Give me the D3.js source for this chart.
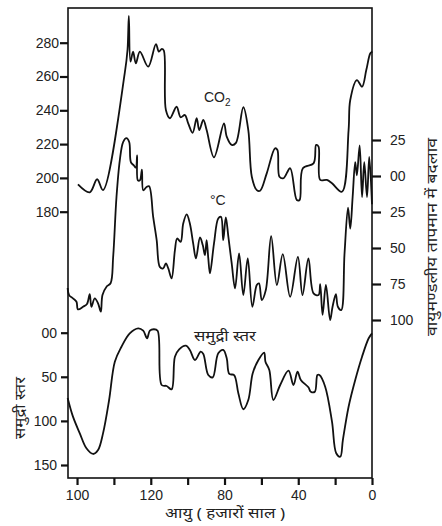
<!DOCTYPE html>
<html>
<head>
<meta charset="utf-8">
<script src="https://cdn.jsdelivr.net/npm/d3@7"></script>
<style>
  body { margin: 0; background: #fff; }
  text { font-family: "Liberation Sans", Arial, sans-serif; fill: #222; }
  .hindi { font-family: "Noto Sans", "DejaVu Sans", sans-serif; }
</style>
</head>
<body>
<script>
(function(){

//data: [age in thousand years, value]
var co2Data = [[159.5,196.2],[153.1,191.5],[149.1,199.2],[145.9,192.8],[134.1,262.1],[132.6,276],[131.9,295.8],[131.0,268.8],
    [129.6,274.7],[128.1,267.8],[125.9,274.7],[121.4,265.8],[117.2,279.2],[115.6,274.7],[114,276.3],[112.9,275.3],
    [111.8,240.2],[109.6,235.3],[106,242.1],[103.8,235.9],[101.5,237.2],[99.7,232.3],[97.3,226.7],[95.1,235.3],
    [93.7,228.3],[91.5,234.3],[89.7,228.3],[85.7,212.2],[80.3,232.3],[78.8,224.4],[76.1,219.5],[73.8,220.7],
    [69.8,241.8],[67.1,228.3],[65.2,200.7],[62.5,192.8],[60.7,192.4],[57.1,202.7],[52.6,217.5],[51.3,216.5],
    [50.2,200.7],[48.0,199.8],[44.4,205.7],[40.8,186.9],[39.3,186.9],[37.5,205.7],[31.7,208.6],[30.3,219.5],
    [29.0,218.5],[28.1,198.8],[24.5,198.8],[21.7,196.8],[16.3,191.8],[12.7,228.3],[11.8,246.1],[8.2,257.9],
    [5.4,254.0],[3.1,263.8],[0.9,273.7],[-0.2,274.7]];

var tempData = [[165.1,-7.78],[164.3,-8.27],[162.2,-8.50],[160.3,-8.73],[159.5,-9.26],[156.7,-9.08],[154.6,-8.89],
    [153.1,-8.20],[152.2,-9.08],[150.4,-8.50],[148.6,-8.84],[147.1,-9.42],[146.2,-8.27],[144.0,-7.69],[141.8,-7.45],
    [140.4,-5.61],[138.6,-1.46],[136.8,1.09],[135.0,2.36],[133.2,2.63],[131.7,2.36],[130.8,0.97],[129.2,0.74],
    [128.1,0.58],[127.4,1.43],[127.0,-0.30],[125.9,-0.30],[124.8,0.44],[124.1,-0.99],[122.3,-0.76],[120.9,-0.71],
    [118.7,-2.84],[116.8,-4.45],[115.1,-6.31],[113.3,-6.42],[111.8,-6.07],[110.5,-6.42],[108.7,-7.11],[106.9,-5.15],
    [105.7,-4.34],[103.8,-4.57],[102.4,-3.30],[100.5,-2.67],[98.8,-3.30],[97.0,-4.68],[95.5,-5.72],[93.3,-4.27],
    [91.8,-4.80],[90.6,-5.50],[89.7,-4.46],[88.8,-5.72],[87.9,-6.76],[85.7,-4.68],[83.4,-2.95],[81.9,-2.84],
    [80.7,-4.46],[79.3,-2.88],[77.9,-4.23],[76.1,-6.07],[74.3,-7.80],[72.1,-5.38],[69.8,-8.27],[67.4,-5.72],
    [64.9,-9.08],[62.5,-7.57],[61.3,-7.46],[59.8,-8.61],[57.6,-7.92],[54.7,-4.18],[51.6,-7.57],[48.4,-5.43],
    [44.4,-8.39],[40.2,-5.61],[37.7,-8.27],[34.5,-5.72],[31.7,-8.15],[29.0,-8.27],[28.1,-7.51],[26.8,-9.65],
    [25.0,-7.57],[22.7,-10.0],[21.4,-9.08],[19.6,-8.20],[18.5,-9.08],[16.7,-9.31],[14.9,-5.38],[13.0,-2.19],
    [11.8,-3.65],[10.5,-1.46],[9.1,0.97],[8.2,0.05],[6.7,2.13],[5.4,-1.46],[4.2,0.97],[2.7,-1.46],[1.5,1.32],[0.0,-1.96]];

var seaData = [[165.1,74.0],[162.2,95.2],[158.5,114.1],[154.9,131.1],[151.3,137.5],[148.6,133.0],[145.9,114.1],
    [142.6,76.3],[139.5,32.9],[135.9,15.9],[131.4,0.7],[126.8,-5.0],[124.1,-2.3],[122.0,6.3],[120.5,-2.3],
    [118.3,-3.9],[116.3,-2.3],[114.1,59.3],[111.4,60.4],[108.7,64.2],[106.9,27.2],[104.6,18.8],[100.9,14.7],
    [98.8,19.6],[96.0,31.0],[92.9,21.5],[91.5,24.1],[88.8,48.0],[86.4,50.6],[83.4,23.4],[80.7,19.6],[78.8,29.0],
    [77.4,46.8],[74.8,48.0],[72.5,68.7],[69.8,86.8],[67.1,76.3],[64.7,46.0],[61.6,31.0],[58.5,22.7],[57.8,32.9],
    [55.7,42.3],[53.5,76.3],[49.8,59.3],[45.3,43.1],[42.6,59.3],[40.4,44.2],[38.6,53.6],[34.5,61.9],[33.2,66.9],
    [31.0,66.9],[29.6,48.0],[28.5,48.0],[25.4,61.2],[21.7,100.9],[19.4,136.7],[17.2,140.6],[15.8,121.7],
    [12.7,83.9],[9.1,53.6],[5.4,27.2],[1.8,6.3],[0,0.7]];

//tick values and labels as printed
var ageTicks = [160,140,120,100,80,60,40,20,0];
var ageLabels = ["100","","120","","80","","40","","0"];
var co2Ticks = [180,200,220,240,260,280];
var tempTicks = [2.5,0,-2.5,-5,-7.5,-10];
var tempLabels = ["25","00","25","50","75","100"];
var seaTicks = [0,50,100,150];
var seaLabels = ["00","50","100","150"];

var width = 442, height = 526;
var left = 68, right = 372, top = 8, bottom = 478;

var svg = d3.select("body").append("svg")
    .attr("width", width)
    .attr("height", height);

var x = d3.scaleLinear().domain([164.9, 0]).range([left, right]);
var yCo2 = d3.scaleLinear().domain([180, 280]).range([211.7, 42.7]);
var yTemp = d3.scaleLinear().domain([2.5, -10]).range([140, 320]);
var ySea = d3.scaleLinear().domain([0, 150]).range([332.7, 465]);

//frame
svg.append("rect")
    .attr("x", left).attr("y", top)
    .attr("width", right - left).attr("height", bottom - top)
    .attr("fill", "none").attr("stroke", "#111").attr("stroke-width", 1.6);

function styleAxis(g){
    g.select(".domain").remove();
    g.selectAll(".tick line").attr("stroke", "#111").attr("stroke-width", 2.2);
    g.selectAll(".tick text").attr("font-size", 14).attr("fill", "#222")
        .attr("font-family", "Liberation Sans, Arial, sans-serif");
}

svg.append("g")
    .attr("transform", "translate(0," + bottom + ")")
    .call(d3.axisBottom(x).tickValues(ageTicks).tickSize(7).tickPadding(5)
        .tickFormat(function(d, i){ return ageLabels[i]; }))
    .call(styleAxis);

svg.append("g")
    .attr("transform", "translate(" + left + ",0)")
    .call(d3.axisLeft(yCo2).tickValues(co2Ticks).tickSize(8).tickPadding(1))
    .call(styleAxis);

svg.append("g")
    .attr("transform", "translate(" + left + ",0)")
    .call(d3.axisLeft(ySea).tickValues(seaTicks).tickSize(7).tickPadding(4)
        .tickFormat(function(d, i){ return seaLabels[i]; }))
    .call(styleAxis);

svg.append("g")
    .attr("transform", "translate(" + right + ",0)")
    .call(d3.axisRight(yTemp).tickValues(tempTicks).tickSize(9).tickPadding(9)
        .tickFormat(function(d, i){ return tempLabels[i]; }))
    .call(styleAxis);

//curves
function drawLine(data, yScale){
    var line = d3.line()
        .x(function(d){ return x(d[0]); })
        .y(function(d){ return yScale(d[1]); })
        .curve(d3.curveCatmullRom.alpha(0.5));
    svg.append("path")
        .datum(data)
        .attr("d", line)
        .attr("fill", "none")
        .attr("stroke", "#111")
        .attr("stroke-width", 1.8)
        .attr("stroke-linejoin", "round");
}
drawLine(co2Data, yCo2);
drawLine(tempData, yTemp);
drawLine(seaData, ySea);

//series labels
var co2Label = svg.append("text").attr("x", 204).attr("y", 102).attr("font-size", 14);
co2Label.append("tspan").text("CO");
co2Label.append("tspan").attr("font-size", 10).attr("dy", 4).text("2");

svg.append("text").attr("x", 210).attr("y", 205).attr("font-size", 14).text("°C");

svg.append("text").attr("class", "hindi")
    .attr("x", 225).attr("y", 341).attr("font-size", 14)
    .attr("textLength", 62).attr("lengthAdjust", "spacingAndGlyphs")
    .attr("text-anchor", "middle").text("समुद्री स्तर");

//axis titles
svg.append("text").attr("class", "hindi")
    .attr("x", 225).attr("y", 518).attr("font-size", 15)
    .attr("textLength", 120).attr("lengthAdjust", "spacingAndGlyphs")
    .attr("text-anchor", "middle").text("आयु ( हजारों साल )");

svg.append("text").attr("class", "hindi")
    .attr("transform", "translate(25,408) rotate(-90)")
    .attr("font-size", 14).attr("text-anchor", "middle")
    .attr("textLength", 62).attr("lengthAdjust", "spacingAndGlyphs")
    .text("समुद्री स्तर");

svg.append("text").attr("class", "hindi")
    .attr("transform", "translate(437,237) rotate(-90)")
    .attr("font-size", 14).attr("text-anchor", "middle")
    .attr("textLength", 198).attr("lengthAdjust", "spacingAndGlyphs")
    .text("वायुमण्डलीय तापमान में बदलाव");

})();
</script>
</body>
</html>
